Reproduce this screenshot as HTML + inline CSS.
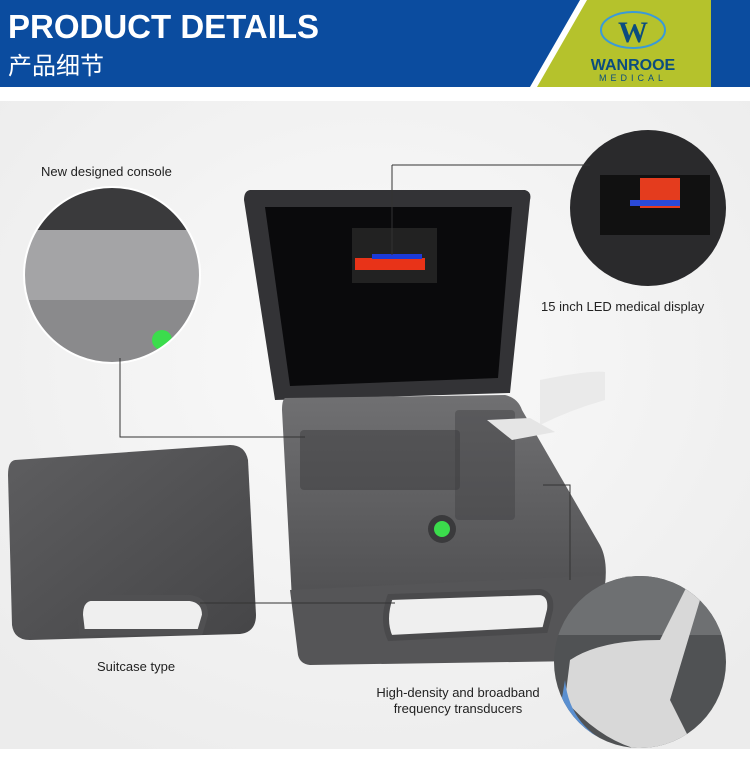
<!DOCTYPE html>
<html><head><meta charset="utf-8"><style>
html,body{margin:0;padding:0;width:750px;height:779px;overflow:hidden;background:#fff;font-family:"Liberation Sans","Noto Sans CJK SC",sans-serif}
</style></head><body>
<svg width="750" height="779" viewBox="0 0 750 779" xmlns="http://www.w3.org/2000/svg" style="position:absolute;left:0;top:0">
<defs>
<radialGradient id="bg" cx="0.5" cy="0.4" r="0.7"><stop offset="0" stop-color="#fafafa"/><stop offset="1" stop-color="#ececec"/></radialGradient>
<linearGradient id="base" x1="0" y1="0" x2="0" y2="1"><stop offset="0" stop-color="#707072"/><stop offset="1" stop-color="#4e4e50"/></linearGradient>
<linearGradient id="lid" x1="0" y1="0" x2="1" y2="1"><stop offset="0" stop-color="#5e5e60"/><stop offset="1" stop-color="#454547"/></linearGradient>
<clipPath id="c1"><circle cx="112" cy="275" r="88"/></clipPath>
<clipPath id="c2"><circle cx="648" cy="208" r="78"/></clipPath>
<clipPath id="c3"><circle cx="640" cy="662" r="86"/></clipPath>
</defs>
<rect x="0" y="0" width="750" height="87" fill="#0b4c9f"/>
<polygon points="580,0 711,0 711,87 530,87" fill="#fff"/>
<polygon points="587,0 711,0 711,87 537,87" fill="#b5c22c"/>
<text x="8" y="38" font-size="33" font-weight="bold" fill="#fff">PRODUCT DETAILS</text>
<text x="8" y="74" font-size="24" fill="#fff" font-family="Noto Sans CJK SC,sans-serif">产品细节</text>
<ellipse cx="633" cy="30" rx="32" ry="18" fill="none" stroke="#3a9ad8" stroke-width="2"/>
<text x="633" y="42" font-size="30" font-weight="bold" fill="#0b4c7f" text-anchor="middle" font-family="Liberation Serif,serif">W</text>
<text x="633" y="70" font-size="16" font-weight="bold" fill="#0b4c7f" text-anchor="middle">WANROOE</text>
<text x="633" y="81" font-size="9" fill="#0b4c7f" text-anchor="middle" letter-spacing="4">MEDICAL</text>
<rect x="0" y="101" width="750" height="648" fill="url(#bg)"/>
<path d="M15,460 L230,445 Q245,445 248,460 L256,615 Q256,632 240,634 L30,640 Q14,640 12,625 L8,475 Q8,461 15,460Z" fill="url(#lid)"/>
<path d="M90,598 L190,598 Q205,600 205,615 L200,632 L82,632 L80,615 Q80,600 90,598Z" fill="#efefef" stroke="#505052" stroke-width="6"/>
<path d="M250,190 L525,190 Q532,192 530,200 L510,393 L275,400 L244,200 Q244,191 250,190Z" fill="#333336"/>
<polygon points="265,207 512,207 498,378 290,386" fill="#0a0a0c"/>
<rect x="352" y="228" width="85" height="55" fill="#222"/>
<rect x="355" y="258" width="70" height="12" fill="#e83318"/>
<rect x="372" y="254" width="50" height="5" fill="#1c3ad8"/>
<path d="M285,398 L505,395 Q518,398 522,410 L600,545 Q608,560 605,585 L600,598 L305,615 Q293,615 292,600 L282,410 Q282,400 285,398Z" fill="url(#base)"/>
<path d="M290,590 L605,575 L603,600 L600,650 Q596,660 580,661 L310,665 Q300,664 298,655Z" fill="#555557"/>
<path d="M390,597 L540,592 Q552,594 550,610 L545,630 L390,638 Q382,620 390,597Z" fill="#efefef" stroke="#4a4a4c" stroke-width="6"/>
<circle cx="442" cy="529" r="14" fill="#3a3a3c"/>
<circle cx="442" cy="529" r="8" fill="#3bdc4c"/>
<g fill="#3c3c3e">
<rect x="300" y="430" width="160" height="60" rx="4" opacity="0.5"/>
<rect x="455" y="410" width="60" height="110" rx="4" opacity="0.4"/>
</g>
<path d="M487,420 L530,418 L555,432 L512,440Z" fill="#e5e5e5"/>
<path d="M540,380 Q590,370 605,372 L605,400 Q570,410 540,425Z" fill="#e7e7e7" opacity="0.8"/>
<g clip-path="url(#c1)"><rect x="20" y="185" width="190" height="180" fill="#a4a4a6"/><rect x="20" y="185" width="190" height="45" fill="#3a3a3c"/><rect x="20" y="300" width="190" height="70" fill="#8a8a8c"/><circle cx="162" cy="340" r="10" fill="#3bdc4c"/></g>
<circle cx="112" cy="275" r="88" fill="none" stroke="#fff" stroke-width="2"/>
<g clip-path="url(#c2)"><rect x="560" y="125" width="180" height="170" fill="#2a2a2c"/><rect x="600" y="175" width="110" height="60" fill="#111"/><rect x="640" y="178" width="40" height="30" fill="#e43c1e"/><rect x="630" y="200" width="50" height="6" fill="#2a4ad8"/></g>
<g clip-path="url(#c3)"><rect x="550" y="575" width="180" height="180" fill="#505254"/><rect x="550" y="575" width="180" height="60" fill="#6e7072"/><path d="M690,580 L660,640 Q600,640 570,660 L565,700 Q600,740 640,750 L690,740 L670,700 L700,600Z" fill="#d8d8d8"/><path d="M565,680 Q570,730 620,748 L600,760 L555,740Z" fill="#5a8fd0"/></g>
<g stroke="#333" stroke-width="1" fill="none">
<polyline points="120,358 120,437 305,437"/>
<line x1="392" y1="165" x2="392" y2="255"/><line x1="392" y1="165" x2="590" y2="165"/>
<line x1="200" y1="603" x2="395" y2="603"/>
<polyline points="543,485 570,485 570,580"/>
</g>
<g font-size="13" fill="#222">
<text x="41" y="176">New designed console</text>
<text x="541" y="311">15 inch LED medical display</text>
<text x="97" y="671">Suitcase type</text>
<text x="458" y="697" text-anchor="middle">High-density and broadband</text>
<text x="458" y="713" text-anchor="middle">frequency transducers</text>
</g>
</svg>
</body></html>
